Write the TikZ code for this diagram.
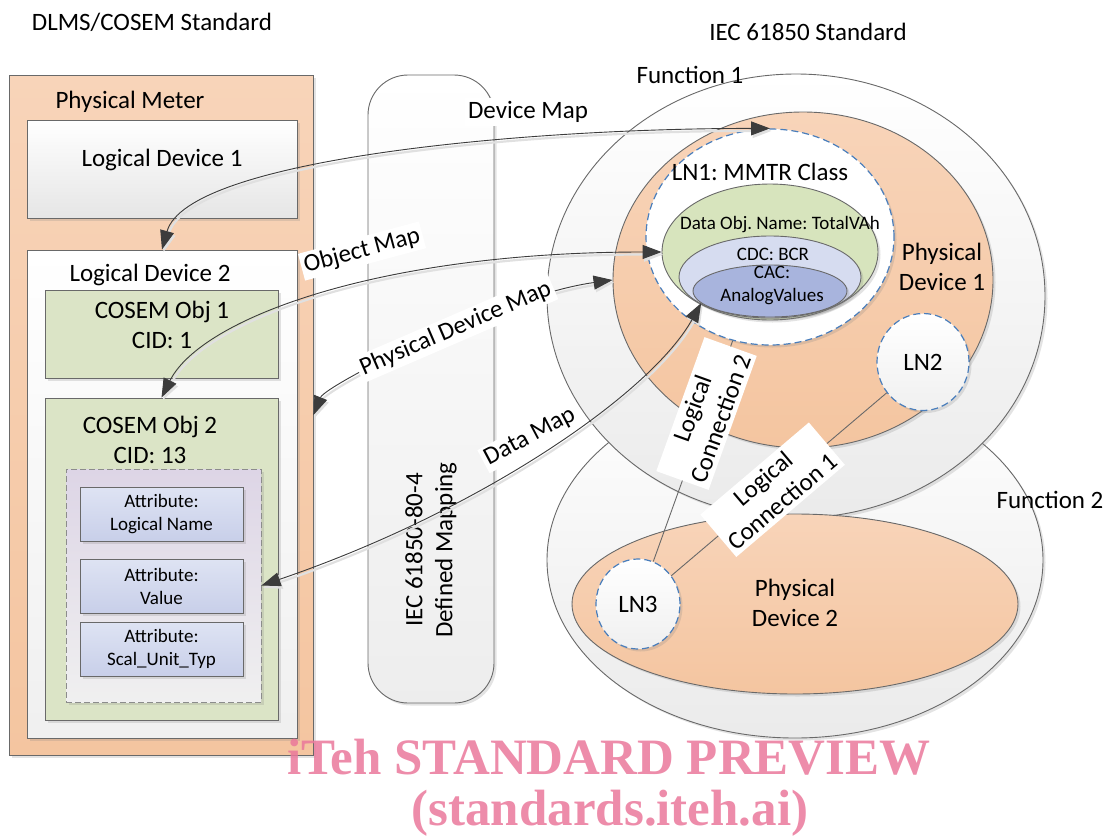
\documentclass[tikz,border=0pt]{standalone}
\usepackage{fontspec}
\setmainfont{Carlito}
\newfontfamily\wmfont{Liberation Serif}
\usetikzlibrary{shapes.geometric,arrows.meta,shadows}
\frenchspacing

\definecolor{peach}{RGB}{244,197,160}
\definecolor{peachtop}{RGB}{248,212,185}
\definecolor{objgreen}{RGB}{219,228,198}
\definecolor{dogreen}{RGB}{215,228,189}
\definecolor{attrtop}{RGB}{222,227,243}
\definecolor{attrbot}{RGB}{200,207,233}
\definecolor{cdcblue}{RGB}{214,220,240}
\definecolor{cacblue}{RGB}{168,180,221}
\definecolor{lilac}{RGB}{221,213,230}
\definecolor{lnblue}{RGB}{74,126,187}
\definecolor{edge}{RGB}{105,105,105}
\definecolor{tipgray}{RGB}{60,60,60}
\definecolor{wmpink}{RGB}{234,120,155}

\tikzset{
  sh/.style={drop shadow={shadow xshift=2.5pt, shadow yshift=-2.5pt, opacity=0.22}},
  box/.style={draw=edge, line width=0.9pt, rectangle, inner sep=0pt, sh},
  oval/.style={draw=edge, line width=0.9pt, ellipse, inner sep=0pt, sh},
  lnode/.style={oval, draw=lnblue, line width=1.2pt, dash pattern=on 7pt off 4pt},
  big/.style={font=\fontsize{25}{30}\selectfont, align=center},
  small/.style={font=\fontsize{19}{23}\selectfont, align=center},
  maplbl/.style={big, fill=white, inner sep=3pt},
  lnk/.style={draw=edge, line width=0.9pt},
  mapline/.style={draw=tipgray, line width=0.9pt,
    {Triangle[length=19pt,width=14pt]}-{Triangle[length=19pt,width=14pt]},
    preaction={draw=black!12, line width=2.2pt, transform canvas={shift={(1.5pt,-2.5pt)}}}},
  wm/.style={font=\wmfont\bfseries\fontsize{51}{56}\selectfont, text=wmpink, text opacity=0.85}
}

\begin{document}
\begin{tikzpicture}[x=1pt,y=-1pt]
\useasboundingbox (0,0) rectangle (1109,839);

\node[big] (tdlms) at (152,22) {DLMS/COSEM Standard};
\node[box, top color=peachtop, bottom color=peach, minimum width=304pt, minimum height=680pt] (meter) at (161,415) {};
\node[big] (lblmeter) at (130,102) {Physical Meter};
\node[box, top color=white, bottom color=black!10, minimum width=270pt, minimum height=98pt] (ld1) at (162,169) {};
\node[big] (lblld1) at (162,160) {Logical Device 1};
\node[box, top color=white, bottom color=black!6, minimum width=270pt, minimum height=488pt] (ld2) at (162,494) {};
\node[big] (lblld2) at (150,275) {Logical Device 2};
\node[box, fill=objgreen, minimum width=233pt, minimum height=88pt] (obj1) at (161.5,334) {};
\node[big] (lblobj1) at (162,325) {COSEM Obj 1\\CID: 1};
\node[box, fill=objgreen, minimum width=233pt, minimum height=322pt] (obj2) at (161.5,559) {};
\node[big] (lblobj2) at (150,440) {COSEM Obj 2\\CID: 13};
\node[box, draw=black!45, dash pattern=on 6pt off 3pt, top color=lilac, bottom color=black!6,
  minimum width=195pt, minimum height=233pt] (attrs) at (163.5,585.5) {};
\foreach \n/\y/\t in {a1/514.5/Logical Name, a2/586/Value, a3/649/Scal\_Unit\_Typ}
  \node[box, small, top color=attrtop, bottom color=attrbot, minimum width=163pt, minimum height=54pt] (\n) at (161.5,\y) {Attribute:\\\t};

\node[box, rounded corners=40pt, top color=white, bottom color=black!7, minimum width=126pt, minimum height=628pt] (mapping) at (431,389) {};
\node[big, rotate=90] (lblmapping) at (431,550) {IEC 61850-80-4\\Defined Mapping};

\node[big] (tiec) at (808,32) {IEC 61850 Standard};
\node[oval, top color=white, bottom color=black!8, minimum width=496pt, minimum height=356pt] (fn2) at (795,560) {};
\node[oval, top color=white, bottom color=black!8, minimum width=498pt, minimum height=444pt] (fn1) at (796,296) {};
\node[oval, top color=peachtop, bottom color=peach, minimum width=446pt, minimum height=180pt] (pd2) at (795,604) {};
\node[oval, top color=peachtop, bottom color=peach, minimum width=380pt, minimum height=336pt] (pd1) at (803,280) {};
\node[lnode, fill=white, minimum width=248pt, minimum height=216pt] (ln1) at (770,237) {};
\node[oval, fill=dogreen, minimum width=216pt, minimum height=136pt] (dobj) at (770,252) {};
\node[oval, fill=cdcblue, minimum width=182pt, minimum height=82pt] (cdc) at (770,277) {};
\node[oval, fill=cacblue, minimum width=154pt, minimum height=52pt] (cac) at (770,291) {};
\node[lnode, big, top color=white, bottom color=black!6, minimum width=92pt, minimum height=97pt] (ln2) at (923,362) {LN2};
\node[lnode, big, top color=white, bottom color=black!6, minimum width=84pt, minimum height=90pt] (ln3) at (638,604) {LN3};

\node[big] (lblfn1) at (690,75) {Function 1};
\node[big] (lblfn2) at (1050,500) {Function 2};
\node[big] (lblpd1) at (942,267) {Physical\\Device 1};
\node[big] (lblpd2) at (795,603) {Physical\\Device 2};
\node[big] (lblln1) at (760,172) {LN1: MMTR Class};
\node[small] (lbldobj) at (780,225) {Data Obj. Name: TotalVAh};
\node[small] (lblcdc) at (773,254) {CDC: BCR};
\node[small] (lblcac) at (772,285) {CAC:\\AnalogValues};

\draw[lnk] (ln2) -- (ln3) node[maplbl, sloped, pos=0.53, inner sep=4pt] (lblc1) {Logical\\Connection 1};
\draw[lnk] (ln1) -- (ln3) node[maplbl, sloped, pos=0.33, inner sep=4pt] (lblc2) {Logical\\Connection 2};

\draw[mapline] (ld2.north) .. controls +(25,-90) and +(-250,0) .. (ln1.north);
\draw[mapline] (obj2.north) .. controls +(40,-80) and +(-280,0) .. (dobj.west);
\draw[mapline] (meter.east) .. controls +(12,-30) and +(-110,15) .. (pd1.west)
  node[maplbl, sloped, pos=0.58] (lblpdm) {Physical Device Map};
\draw[mapline] (attrs.east) .. controls +(220,-75) and +(-50,90) .. (cac.190);
\node[maplbl] (lbldev) at (528,112) {Device Map};
\node[maplbl, rotate=15] (lblobj) at (362,251) {Object Map};
\node[maplbl, rotate=28] (lbldata) at (530,437) {Data Map};

\node[wm] (wm1) at (609,757) {iTeh STANDARD PREVIEW};
\node[wm] (wm2) at (610,813) {(standards.iteh.ai)};
\end{tikzpicture}
\end{document}
